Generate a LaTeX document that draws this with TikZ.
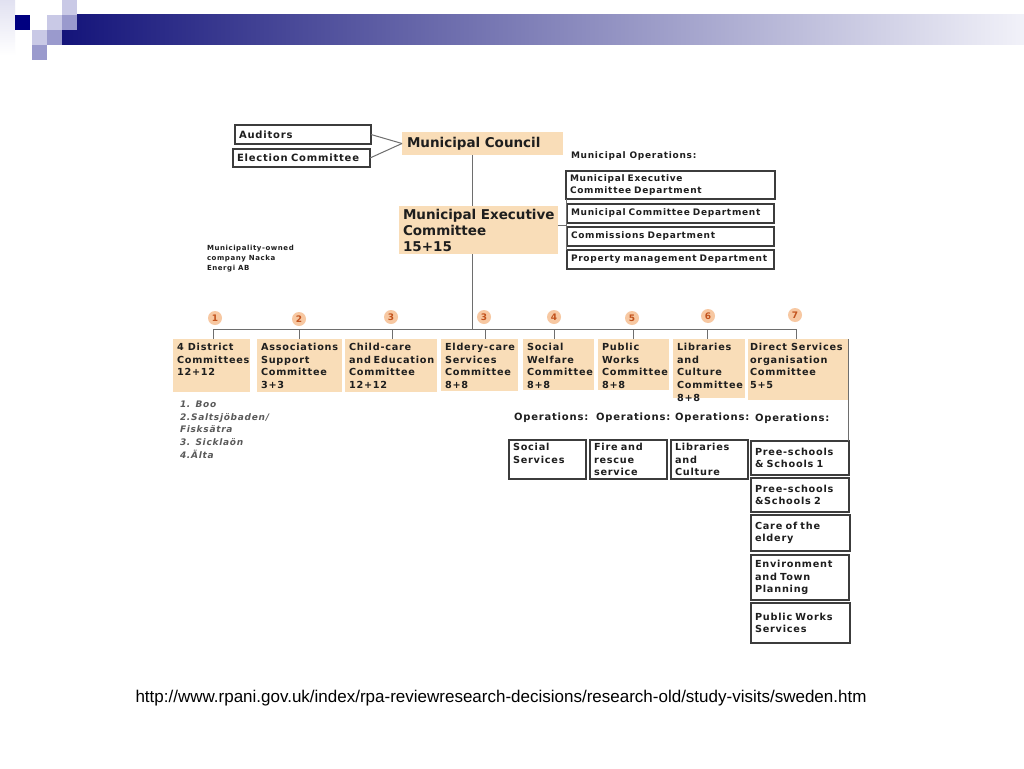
\documentclass[tikz,border=0pt]{standalone}
\usepackage{fontspec}
\newfontfamily\vbZ{DejaVu Sans}
\newfontfamily\vbA[LetterSpace=4]{DejaVu Sans}
\newfontfamily\vbB[LetterSpace=8]{DejaVu Sans}
\newfontfamily\urlfont{Liberation Sans}
\usetikzlibrary{calc}
\definecolor{tanfill}{HTML}{F9DDB8}
\definecolor{navy}{HTML}{14147A}
\definecolor{deepnavy}{HTML}{000080}
\definecolor{lav}{HTML}{C9C9E6}
\definecolor{midlav}{HTML}{9A9ACD}
\definecolor{txt}{HTML}{1E1E1E}
\definecolor{bord}{HTML}{3C3C3C}
\definecolor{connc}{HTML}{6E6E6E}
\definecolor{numfill}{HTML}{F7C8A2}
\definecolor{numtxt}{HTML}{C2521C}
\definecolor{listtxt}{HTML}{5A5A5A}
\newcommand\topbox[3]{\parbox[t][#2][t]{#1}{\raggedright\hyphenpenalty=10000\exhyphenpenalty=10000 #3}}
\begin{document}
\begin{tikzpicture}[x=1pt,y=-1pt,
  every node/.style={inner sep=0pt, outer sep=0pt, text=txt, execute at begin node={\hyphenpenalty=10000\exhyphenpenalty=10000}},
  bigfont/.style={font=\vbZ\bfseries\fontsize{13.5}{16}\selectfont},
  wbox/.style={draw=bord, line width=1.1pt, fill=white, anchor=north west, align=left, inner xsep=4pt},
  obox/.style={wbox, line width=1.3pt, font=\vbB\bfseries\fontsize{9.7}{12.7}\selectfont},
  deptfont/.style={font=\vbB\bfseries\fontsize{9}{11.5}\selectfont},
  tbox/.style={fill=tanfill, anchor=north west, align=left, inner xsep=4pt},
  cbox/.style={fill=tanfill, anchor=north west, inner xsep=4pt, inner ysep=4pt, font=\vbB\bfseries\fontsize{9.7}{12.7}\selectfont},
  opsfont/.style={anchor=west, font=\vbB\bfseries\fontsize{10}{12}\selectfont},
  numc/.style={circle, fill=numfill, minimum size=14pt, text=numtxt, font=\vbZ\bfseries\fontsize{9}{10}\selectfont},
  connline/.style={draw=connc, line width=1pt}
]
\useasboundingbox (0,0) rectangle (1024,768);
\fill[white] (0,0) rectangle (1024,768);
% header decoration
\shade[top color=lav!55, bottom color=white] (0,0) rectangle (15,55);
\shade[left color=navy, right color=lav!25] (62,15) rectangle (1024,45);
\fill[deepnavy] (15,15) rectangle (30,30);
\fill[lav] (62,0) rectangle (77,15);
\fill[lav] (47,15) rectangle (62,30);
\fill[lav] (32,30) rectangle (47,45);
\fill[midlav] (62,15) rectangle (77,30);
\fill[midlav] (47,30) rectangle (62,45);
\fill[midlav] (32,45) rectangle (47,60);

% top level
\node[wbox, minimum width=136pt, minimum height=19pt, text width=128pt, font=\vbB\bfseries\fontsize{10}{12}\selectfont] (aud) at (235,125) {Auditors};
\node[wbox, minimum width=137pt, minimum height=18pt, text width=129pt, font=\vbB\bfseries\fontsize{10}{12}\selectfont] (elec) at (233,149) {Election~Committee};
\node[tbox, bigfont, minimum height=23pt, inner xsep=5pt, text width=151pt] (council) at (402,132) {Municipal~Council};
\node[tbox, bigfont, minimum height=48pt, inner xsep=3pt, text width=153pt] (exec) at (399,206) {\hspace*{1pt}Municipal~Executive\\\hspace*{1pt}Committee\\\hspace*{1pt}15+15};

\node[anchor=west, font=\vbB\bfseries\fontsize{9}{10}\selectfont] (mo) at (571,156) {Municipal~Operations:};
\node[wbox, deptfont, minimum height=28pt, text width=201pt] (d1) at (566,171) {Municipal~Executive\\Committee~Department};
\node[wbox, deptfont, minimum height=19pt, text width=199pt] (d2) at (567,204) {Municipal~Committee~Department};
\node[wbox, deptfont, minimum height=19pt, text width=199pt] (d3) at (567,227) {Commissions~Department};
\node[wbox, deptfont, minimum height=19pt, text width=199pt] (d4) at (567,250) {Property~management~Department};

\node[anchor=north west, align=left, font=\vbB\bfseries\fontsize{7}{10}\selectfont] (nacka) at (207,245) {Municipality-owned\\company Nacka\\Energi AB};

% committees
\node[cbox] (c1) at (173,339) {\topbox{69pt}{45pt}{4~District\\Committees\\12+12}};
\node[cbox] (c2) at (257,339) {\topbox{77pt}{45pt}{Associations\\Support\\Committee\\3+3}};
\node[cbox] (c3) at (345,339) {\topbox{84pt}{45pt}{Child-care\\and~Education\\Committee\\12+12}};
\node[cbox] (c4) at (441,339) {\topbox{69pt}{44pt}{Eldery-care\\Services\\Committee\\8+8}};
\node[cbox] (c5) at (523,339) {\topbox{63pt}{43pt}{Social\\Welfare\\Committee\\8+8}};
\node[cbox] (c6) at (598,339) {\topbox{63pt}{43pt}{Public\\Works\\Committee\\8+8}};
\node[cbox] (c7) at (673,339) {\topbox{64pt}{51pt}{Libraries\\and\\Culture\\Committee\\8+8}};
\node[cbox, inner xsep=2pt] (c8) at (748,339) {\topbox{96pt}{53pt}{Direct~Services\\organisation\\Committee\\5+5}};

% numbers
\node[numc] (n1) at (215,318) {1};
\node[numc] (n2) at (299,319) {2};
\node[numc] (n3) at (391,317) {3};
\node[numc] (n3b) at (484,317) {3};
\node[numc] (n4) at (554,317) {4};
\node[numc] (n5) at (632,318) {5};
\node[numc] (n6) at (708,316) {6};
\node[numc] (n7) at (795,315) {7};

\node[anchor=north west, align=left, text=listtxt, font=\vbB\bfseries\itshape\fontsize{9}{12.7}\selectfont] (list) at (180,401) {1. Boo\\2.Saltsjöbaden/\\Fisksätra\\3. Sicklaön\\4.Älta};

% operations
\node[opsfont] (op1) at (514,418) {Operations:};
\node[opsfont] (op2) at (596,418) {Operations:};
\node[opsfont] (op3) at (675,418) {Operations:};
\node[opsfont] (op4) at (755,419) {Operations:};

\node[obox, minimum height=39pt, text width=69pt] (o1) at (509,440) {Social\\Services\\\mbox{}};
\node[obox, minimum height=39pt, text width=69pt] (o2) at (590,440) {Fire~and\\rescue\\service};
\node[obox, minimum height=39pt, text width=69pt] (o3) at (671,440) {Libraries\\and\\Culture};
\node[obox, minimum height=34pt, text width=90pt] (p1) at (751,441) {Pree-schools\\\&~Schools~1};
\node[obox, minimum height=34pt, text width=90pt] (p2) at (751,478) {Pree-schools\\\&Schools~2};
\node[obox, minimum height=36pt, text width=91pt] (p3) at (751,515) {Care~of~the\\eldery};
\node[obox, minimum height=45pt, text width=90pt] (p4) at (751,555) {Environment\\and~Town\\Planning};
\node[obox, minimum height=40pt, text width=91pt] (p5) at (751,603) {Public~Works\\Services};

% connectors
\draw[connline] (aud.east) -- (council.west);
\draw[connline] (elec.east) -- (council.west);
\coordinate (vx) at (472,0);
\draw[connline] (council.south -| vx) -- (exec.north -| vx);
\coordinate (dj) at ($(d2.south west)!0.5!(d3.north west)$);
\draw[connline] (dj -| exec.east) -- (dj);
\draw[connline] (d1.south west) -- (d1.south west |- d4.north);
\coordinate (busL) at (213,329);
\coordinate (busR) at (796,329);
\draw[connline] (exec.south -| vx) -- (vx |- busL);
\draw[connline] (busL) -- (busR);
\coordinate (t1) at (213,329);
\coordinate (t2) at (299,329);
\coordinate (t3) at (392,329);
\coordinate (t4) at (485,329);
\coordinate (t5) at (554,329);
\coordinate (t6) at (633,329);
\coordinate (t7) at (707,329);
\coordinate (t8) at (796,329);
\draw[connline] (t1) -- (t1 |- c1.north);
\draw[connline] (t2) -- (t2 |- c2.north);
\draw[connline] (t3) -- (t3 |- c3.north);
\draw[connline] (t4) -- (t4 |- c4.north);
\draw[connline] (t5) -- (t5 |- c5.north);
\draw[connline] (t6) -- (t6 |- c6.north);
\draw[connline] (t7) -- (t7 |- c7.north);
\draw[connline] (t8) -- (t8 |- c8.north);
\draw[connline] (c8.north east) -- (c8.north east |- p1.north);

\node[font=\urlfont\fontsize{17}{19}\selectfont, text=black] (url) at (501,698) {http://www.rpani.gov.uk/index/rpa-reviewresearch-decisions/research-old/study-visits/sweden.htm};
\end{tikzpicture}
\end{document}
